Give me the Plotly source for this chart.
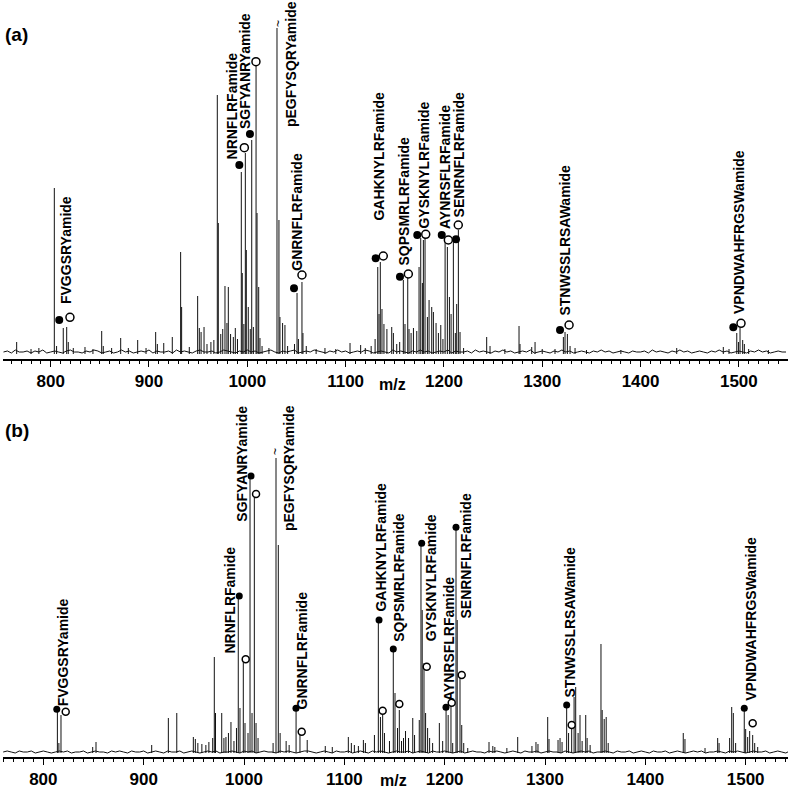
import plotly.graph_objects as go

# ---------------- Panel (a) data ----------------
peaks_a_mz = [765.4, 780, 788, 803.7, 806, 812.8, 816.3, 817.9, 823, 834.9, 843, 851.9, 853.5, 862,
              871.2, 879, 888.5, 897, 906.8, 908.5, 915, 923.7, 932.2, 933.2, 941, 949.5, 951.2, 953,
              956, 959, 963, 966, 969.5, 970.5, 973, 975, 977.3, 979.3, 980.7, 983, 985.8, 987.8, 990,
              993.9, 994.9, 996.5, 998, 999, 1001, 1003, 1004.5, 1006.2, 1008.9, 1009.9, 1011.6, 1012.9,
              1015, 1022, 1030.2, 1032.2, 1033.2, 1035.9, 1038.3, 1041, 1048, 1050.6, 1052, 1055.6,
              1056.6, 1060, 1070, 1079, 1090, 1104.5, 1115.3, 1120, 1126, 1130, 1132.7, 1134, 1135.3,
              1137, 1139, 1142, 1146.9, 1148.6, 1152, 1155, 1158.7, 1160.4, 1163.2, 1164.5, 1166.6,
              1169, 1172.4, 1174.7, 1176.4, 1178.1, 1179.1, 1180.8, 1183.2, 1184.9, 1187.6, 1189.3,
              1192, 1194.4, 1196.8, 1199, 1201.2, 1203.5, 1205.6, 1207.3, 1209.6, 1211.6, 1213, 1214.7,
              1216.4, 1220, 1243.5, 1246.9, 1262, 1276.4, 1277.4, 1289.3, 1292.7, 1300, 1313, 1321.5,
              1323.2, 1325.6, 1328.3, 1333.4, 1345, 1380, 1436.8, 1484.2, 1490, 1497.9, 1499.6, 1501.2,
              1503.9, 1505.6, 1510, 1530]
peaks_a_int = [12, 5, 6, 166, 8, 26, 27, 12, 6, 7, 5, 23, 8, 6,
               16, 6, 14, 6, 22, 10, 11, 17, 102, 47, 7, 58, 26, 22,
               27, 10, 12, 14, 259, 131, 20, 25, 68, 31, 67, 20, 17, 26, 15,
               182, 81, 30, 201, 104, 47, 25, 214, 27, 289, 141, 67, 16,
               8, 6, 326, 134, 37, 31, 29, 8, 10, 61, 15, 72,
               21, 8, 5, 6, 5, 11, 9, 6, 8, 15, 87, 40, 92,
               45, 30, 25, 27, 21, 10, 12, 74, 30, 76, 25, 21,
               26, 23, 87, 116, 71, 114, 116, 37, 54, 47, 42,
               31, 21, 29, 15, 116, 107, 57, 40, 112, 21, 50, 124,
               22, 6, 17, 8, 5, 28, 10, 7, 12, 5, 5, 17,
               22, 20, 8, 6, 4, 4, 6, 7, 5, 21, 12, 26,
               14, 10, 5, 4]

noise_a = [2, 3, 1, 4, 2, 2, 3, 1, 3, 2, 4, 1, 2, 3, 2, 1, 3, 4, 2, 2,
           1, 3, 2, 4, 3, 1, 2, 3, 1, 2, 4, 2, 3, 1, 2, 3, 2, 4, 1, 3,
           2, 2, 3, 1, 4, 2, 3, 2, 1, 3, 4, 2, 2, 3, 1, 2, 4, 3, 2, 1,
           3, 2, 4, 2, 3, 1, 2, 3, 4, 2, 1, 3, 2, 3, 4, 1, 2, 3, 2, 4,
           3, 2, 1, 3, 2, 4, 2, 3, 1, 2, 3, 2, 4, 3, 1, 2, 3, 2, 1, 4,
           2, 3, 2, 1, 3, 2, 4, 2, 3, 1, 2, 3, 2, 4, 1, 3, 2, 2, 3, 1,
           4, 2, 3, 2, 1, 3, 2, 4, 2, 3, 1, 2, 3, 2, 4, 1, 2, 3, 2, 1,
           3, 2, 4, 2, 3, 1, 2, 3, 2, 1, 3, 2, 4, 2, 3, 1, 2, 3, 2, 1,
           3, 2, 2, 3, 1, 4, 2, 3, 2, 1, 3, 2, 4, 2, 3, 1, 2, 3, 2, 1,
           3, 2, 4, 2, 3, 1, 2, 3, 2, 1, 3, 2, 4, 2, 3, 1, 2, 3, 2, 2]

labels = ["FVGGSRYamide", "NRNFLRFamide", "SGFYANRYamide", "pEGFYSQRYamide", "GNRNFLRFamide",
          "GAHKNYLRFamide", "SQPSMRLRFamide", "GYSKNYLRFamide", "AYNRSFLRFamide", "SENRNFLRFamide",
          "STNWSSLRSAWamide", "VPNDWAHFRGSWamide"]
label_a_mz = [815.6, 984.4, 997.7, 1044.5, 1050.3, 1133.0, 1158.4, 1178.8, 1201.1, 1215.3, 1322.2, 1500.2]
label_a_y = [49, 194, 224, 226, 82, 132, 87, 124, 124, 136, 37, 39]

filled_a_mz = [808.7, 991.9, 1002.7, 1047.5, 1130.6, 1155.3, 1172.9, 1197.8, 1212.3, 1318.1, 1494.4]
filled_a_int = [34, 189, 220, 65.7, 95.7, 77.3, 119, 119, 114.7, 24, 26.7]
open_a_mz = [819.6, 997.0, 1008.8, 1055.6, 1138.3, 1163.8, 1181.5, 1204.5, 1214.6, 1327.3, 1502.2]
open_a_int = [36.7, 206.3, 292.3, 79, 98, 80, 119.7, 114, 129, 29, 30.7]

# ---------------- Panel (b) data ----------------
peaks_b_mz = [814.0, 815.5, 817.6, 849.2, 852.5, 908, 924.6, 933, 949.5, 951.5, 954, 958, 962, 965,
              968.8, 970.4, 971.6, 977.8, 980, 982, 984.5, 987, 990, 992.5, 994.3, 996, 999.3, 1001,
              1004, 1006, 1008, 1010.3, 1012, 1014, 1029, 1031.9, 1034.2, 1036, 1042, 1045, 1051.9,
              1055.8, 1063, 1081, 1088, 1104, 1107, 1110, 1114, 1119, 1121, 1130, 1133.9, 1136,
              1138.2, 1140, 1145, 1148.8, 1150.5, 1153, 1154.8, 1157, 1159, 1161, 1164, 1168.2, 1170,
              1174.7, 1176.4, 1177.6, 1179.4, 1181, 1183, 1185, 1188, 1194.7, 1198, 1201.4, 1203.5,
              1206.3, 1208, 1211.3, 1212.5, 1215.3, 1217, 1219, 1223, 1244.2, 1248, 1250, 1262,
              1272.8, 1287, 1291, 1293, 1302.7, 1304, 1313, 1315, 1317, 1321.6, 1323.5, 1326.6, 1329,
              1330.6, 1333, 1334.9, 1337, 1340.6, 1342, 1345, 1355.8, 1357, 1359, 1361, 1363, 1437.8,
              1439.5, 1459.5, 1472.1, 1473.5, 1484, 1486.1, 1487.7, 1490, 1498.6, 1500, 1502, 1504,
              1507, 1509, 1512]
peaks_b_int = [43, 10, 38, 6, 11, 8, 35, 40, 16, 14, 10, 9, 8, 11,
               15, 96, 40, 40, 15, 16, 20, 31, 12, 25, 156, 45, 93, 30,
               20, 276, 40, 256, 30, 15, 10, 295, 208, 20, 12, 8, 43,
               18, 13, 7, 6, 16, 10, 8, 7, 13, 10, 18, 133, 36,
               38, 20, 12, 105, 60, 25, 43, 12, 15, 22, 15, 35, 18,
               33, 210, 143, 90, 40, 25, 15, 10, 30, 12, 46, 38,
               53, 10, 226, 133, 76, 28, 10, 5, 11, 7, 6, 5,
               16, 7, 11, 9, 36, 14, 13, 15, 11, 48, 20, 25, 56,
               66, 20, 38, 12, 38, 15, 8, 109, 43, 34, 36, 10, 20,
               14, 5, 15, 10, 15, 46, 40, 10, 45, 24, 16, 22,
               18, 10, 6]

noise_b = [1, 2, 1, 0, 2, 1, 1, 2, 0, 1, 2, 1, 0, 1, 2, 1, 2, 0, 1, 1,
           2, 0, 1, 2, 1, 1, 0, 2, 1, 2, 1, 0, 2, 1, 1, 2, 0, 1, 2, 1,
           0, 2, 1, 1, 2, 0, 1, 2, 1, 0, 1, 2, 1, 2, 0, 1, 1, 2, 1, 0,
           2, 1, 2, 0, 1, 2, 1, 1, 0, 2, 1, 2, 1, 0, 1, 2, 2, 1, 0, 1,
           2, 1, 0, 2, 1, 1, 2, 0, 1, 2, 1, 0, 2, 1, 2, 1, 0, 1, 2, 1,
           1, 2, 0, 1, 2, 1, 0, 2, 1, 1, 2, 1, 0, 1, 2, 0, 1, 2, 1, 1,
           0, 2, 1, 2, 1, 0, 1, 2, 1, 0, 2, 1, 1, 2, 0, 1, 2, 1, 1, 0,
           2, 1, 0, 1, 2, 1, 2, 0, 1, 1, 2, 1, 0, 2, 1, 1, 2, 0, 1, 2,
           1, 0, 2, 1, 1, 2, 0, 1, 2, 1, 0, 1, 2, 1, 2, 0, 1, 1, 2, 1,
           0, 2, 1, 2, 1, 0, 1, 2, 1, 1, 2, 0, 1, 2, 1, 0, 2, 1, 1, 2]

label_b_mz = [819.9, 985.1, 997.7, 1044.9, 1058.3, 1135.6, 1153.8, 1186.2, 1204.3, 1220.3, 1324.9, 1505.1]
label_b_y = [46, 98, 230, 221, 43, 140, 110, 111, 51, 133, 55, 51]

filled_b_mz = [813.4, 995.3, 1007.0, 1051.8, 1134.6, 1148.8, 1177.1, 1201.3, 1211.3, 1321.6, 1498.6]
filled_b_int = [43.7, 157, 277, 44.7, 133, 104, 209.7, 45.7, 225.7, 48, 44.7]
open_b_mz = [822.3, 1001.7, 1012.0, 1057.5, 1138.2, 1154.8, 1182.1, 1207.0, 1217.0, 1326.6, 1507.0]
open_b_int = [41.3, 93.7, 259, 21.3, 42.3, 49, 86.3, 50.3, 78, 28, 29.7]

tick_vals = [800, 900, 1000, 1100, 1200, 1300, 1400, 1500]

FONT = "Arial, Liberation Sans, sans-serif"


def sticks(mz, inten):
    xs, ys = [], []
    for m, v in zip(mz, inten):
        xs += [m, m, None]
        ys += [0, v, None]
    return xs, ys


fig = go.Figure()

panels = [
    ("x", "y", 752, noise_a, peaks_a_mz, peaks_a_int, filled_a_mz, filled_a_int, open_a_mz, open_a_int, 8),
    ("x2", "y2", 760, noise_b, peaks_b_mz, peaks_b_int, filled_b_mz, filled_b_int, open_b_mz, open_b_int, 7),
]
for xa, ya, n0, noise, pmz, pint, fmz, fint, omz, oint, msize in panels:
    nx = [n0 + 4 * i for i in range(len(noise))]
    fig.add_trace(go.Scatter(x=nx, y=noise, mode="lines", xaxis=xa, yaxis=ya,
                             line=dict(color="#111", width=1), hoverinfo="skip"))
    sx, sy = sticks(pmz, pint)
    fig.add_trace(go.Scatter(x=sx, y=sy, mode="lines", xaxis=xa, yaxis=ya,
                             line=dict(color="#111", width=1)))
    fig.add_trace(go.Scatter(x=fmz, y=fint, mode="markers", xaxis=xa, yaxis=ya,
                             marker=dict(symbol="circle", size=msize, color="black")))
    fig.add_trace(go.Scatter(x=omz, y=oint, mode="markers", xaxis=xa, yaxis=ya,
                             marker=dict(symbol="circle", size=msize, color="white",
                                         line=dict(color="black", width=1.5))))

annotations = []
for xr, yr, lmz, ly in [("x", "y", label_a_mz, label_a_y), ("x2", "y2", label_b_mz, label_b_y)]:
    for t, m, yv in zip(labels, lmz, ly):
        annotations.append(dict(x=m, y=yv, xref=xr, yref=yr, text="<b>%s</b>" % t, textangle=-90,
                                showarrow=False, xanchor="center", yanchor="bottom",
                                font=dict(family=FONT, size=14, color="black"), borderpad=0))

# break marks over the truncated tallest peak
annotations.append(dict(x=1031.2, y=331, xref="x", yref="y", text="~", textangle=-90, showarrow=False,
                        font=dict(family=FONT, size=12, color="black")))
annotations.append(dict(x=1030.9, y=301, xref="x2", yref="y2", text="~", textangle=-90, showarrow=False,
                        font=dict(family=FONT, size=12, color="black")))

H = 757.0
def py(p):
    return 1 - p / H

annotations += [
    dict(x=0, y=py(35), xref="paper", yref="paper", text="<b>(a)</b>", showarrow=False,
         xanchor="left", yanchor="middle", font=dict(family=FONT, size=19, color="black")),
    dict(x=0, y=py(430), xref="paper", yref="paper", text="<b>(b)</b>", showarrow=False,
         xanchor="left", yanchor="middle", font=dict(family=FONT, size=19, color="black")),
    dict(x=(392 - 3) / 785, y=py(384), xref="paper", yref="paper", text="<b>m/z</b>", showarrow=False,
         xanchor="center", yanchor="middle", font=dict(family=FONT, size=16, color="black")),
    dict(x=(393 - 3) / 785, y=py(790), xref="paper", yref="paper", text="<b>m/z</b>", showarrow=False,
         xanchor="center", yanchor="bottom", font=dict(family=FONT, size=16, color="black"), borderpad=0),
]

xcommon = dict(showgrid=False, zeroline=False, showline=True, linecolor="black", linewidth=1.5,
               ticks="outside", ticklen=6, tickwidth=1.2, tickcolor="black",
               tickvals=tick_vals, tickfont=dict(family=FONT, size=17, color="black", weight="bold"),
               minor=dict(dtick=10, tick0=0, ticks="outside", ticklen=3, tickwidth=1, tickcolor="black"),
               fixedrange=True)
ycommon = dict(visible=False, showgrid=False, zeroline=False, fixedrange=True)

fig.update_layout(
    width=788, height=791,
    margin=dict(l=3, r=0, t=0, b=34),
    paper_bgcolor="white", plot_bgcolor="white",
    showlegend=False,
    xaxis=dict(xcommon, range=[751.5, 1550], anchor="y"),
    yaxis=dict(ycommon, range=[-5, 354], domain=[1 - 359 / H, 1]),
    xaxis2=dict(xcommon, range=[759.8, 1542.2], anchor="y2"),
    yaxis2=dict(ycommon, range=[-4, 358], domain=[0, 362 / H]),
    annotations=annotations,
)

fig.write_html("out.html", config={"displayModeBar": False},
               post_script="document.body.style.margin='0';document.body.style.overflow='hidden';")
